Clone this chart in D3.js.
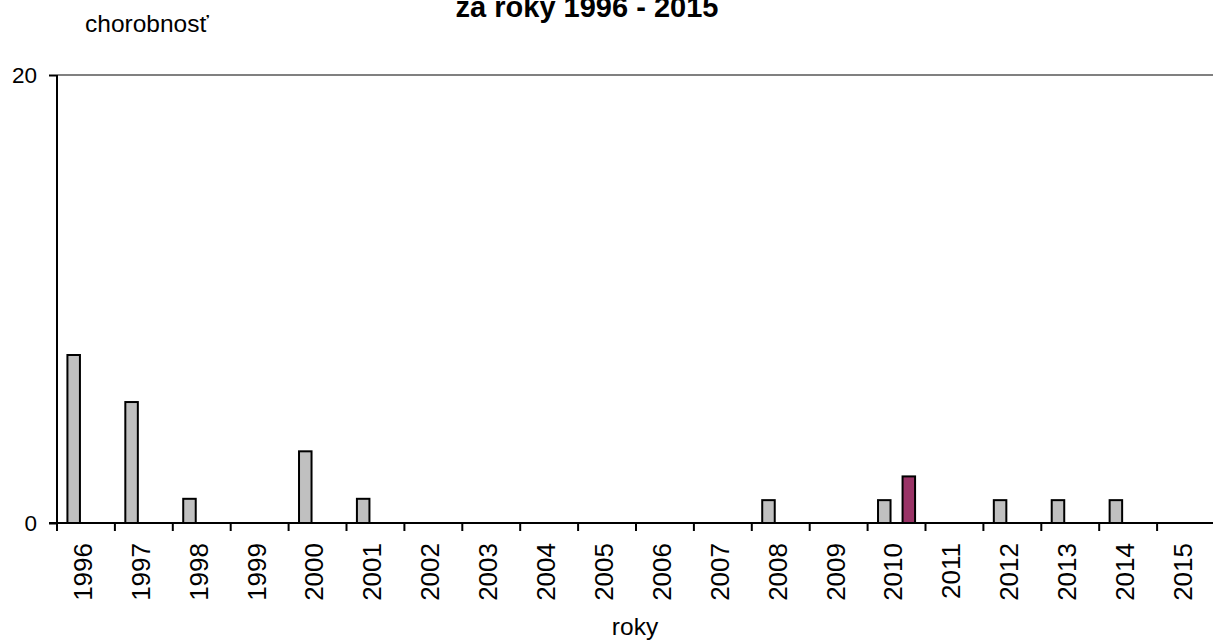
<!DOCTYPE html>
<html>
<head>
<meta charset="utf-8">
<script src="https://cdn.jsdelivr.net/npm/d3@7"></script>
<style>
  html, body { margin: 0; padding: 0; background: #fff; }
  svg { display: block; font-family: "Liberation Sans", Arial, sans-serif; }
</style>
</head>
<body>
<svg id="chart" width="1213" height="640"></svg>
<script>
// values
const years = ["1996","1997","1998","1999","2000","2001","2002","2003","2004","2005",
               "2006","2007","2008","2009","2010","2011","2012","2013","2014","2015"];
const seriesGrey   = [7.5, 5.4, 1.08, 0, 3.2, 1.08, 0, 0, 0, 0, 0, 0, 1.02, 0, 1.02, 0, 1.02, 1.02, 1.02, 0];
const seriesPurple = [0, 0, 0, 0, 0, 0, 0, 0, 0, 0, 0, 0, 0, 0, 2.08, 0, 0, 0, 0, 0];
const yTicks = [0, 20];
const seriesKeys = ["grey", "purple"];
const seriesColors = { grey: "#c0c0c0", purple: "#993366" };

const svg = d3.select("#chart");
const X0 = 57, X1 = 1215, Y0 = 523, Y1 = 75;

const x = d3.scaleBand().domain(years).range([X0, X1]).padding(0);
const bw = x.bandwidth();
const xSub = d3.scaleBand().domain(seriesKeys)
  .range([bw * 0.18, bw * 0.82]).paddingInner(0.49);
const y = d3.scaleLinear().domain([0, 20]).range([Y0, Y1]);

// title (top of it is cut off, as in the original)
svg.append("text")
  .attr("x", 587).attr("y", 17)
  .attr("text-anchor", "middle")
  .attr("font-size", 29).attr("font-weight", "bold")
  .text("za roky 1996 - 2015");

svg.append("text")
  .attr("x", 85).attr("y", 32)
  .attr("font-size", 24.5)
  .text("chorobnosť");

// gridline at 20
svg.append("line")
  .attr("x1", X0).attr("x2", 1213)
  .attr("y1", y(20)).attr("y2", y(20))
  .attr("stroke", "#808080").attr("stroke-width", 2);

// bars
const rows = years.map((yr, i) => [
  { year: yr, key: "grey", v: seriesGrey[i] },
  { year: yr, key: "purple", v: seriesPurple[i] }
]).flat().filter(d => d.v > 0);

svg.append("g").selectAll("rect")
  .data(rows)
  .join("rect")
  .attr("x", d => x(d.year) + xSub(d.key))
  .attr("width", xSub.bandwidth())
  .attr("y", d => y(d.v))
  .attr("height", d => y(0) - y(d.v))
  .attr("fill", d => seriesColors[d.key])
  .attr("stroke", "#000").attr("stroke-width", 2);

// y axis
const yAxis = svg.append("g")
  .attr("transform", `translate(${X0},0)`)
  .call(d3.axisLeft(y).tickValues(yTicks).tickSize(8).tickPadding(12).tickFormat(d3.format("d")));
yAxis.select(".domain").attr("stroke", "#000").attr("stroke-width", 2)
  .attr("d", `M0,${Y1}V${Y0}`);
yAxis.selectAll(".tick line").attr("stroke", "#000").attr("stroke-width", 2);
yAxis.selectAll(".tick text").attr("font-size", 22.5).attr("fill", "#000")
  .attr("font-family", "Liberation Sans, Arial, sans-serif");

// x axis: ticks on category boundaries
svg.append("line")
  .attr("x1", X0 - 8).attr("x2", 1213)
  .attr("y1", Y0).attr("y2", Y0)
  .attr("stroke", "#000").attr("stroke-width", 2);

svg.append("g").selectAll("line")
  .data(years)
  .join("line")
  .attr("x1", d => x(d)).attr("x2", d => x(d))
  .attr("y1", Y0).attr("y2", Y0 + 8)
  .attr("stroke", "#000").attr("stroke-width", 2);

svg.append("g").selectAll("text")
  .data(years)
  .join("text")
  .attr("transform", d => `translate(${x(d) + bw / 2 - 3.5},${Y0 + 20}) rotate(-90)`)
  .attr("text-anchor", "end")
  .attr("dy", "0.36em")
  .attr("font-size", 26)
  .text(d => d);

svg.append("text")
  .attr("x", 635).attr("y", 635)
  .attr("text-anchor", "middle")
  .attr("font-size", 24.5)
  .text("roky");
</script>
</body>
</html>
